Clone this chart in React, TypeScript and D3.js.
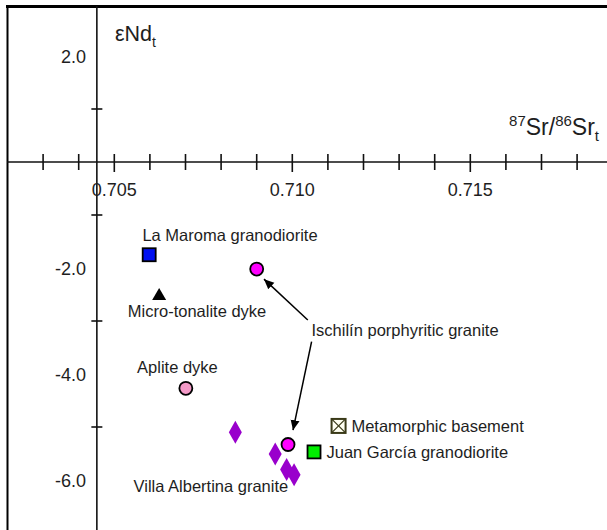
import React from "react";
import * as d3 from "d3";

const W = 607;
const H = 530;

// x tick values (minor every 0.001) and labelled values
const xTicks = [0.703, 0.704, 0.705, 0.706, 0.707, 0.708, 0.709, 0.71, 0.711, 0.712, 0.713, 0.714, 0.715, 0.716, 0.717, 0.718];
const xLabels = [0.705, 0.71, 0.715];
const yTicks = [1, -1, -3, -5];
const yLabels = [2, -2, -4, -6];

// series
const laMaroma = [{ x: 0.70598, y: -1.75 }];
const microTonalite = [{ x: 0.70626, y: -2.51 }];
const ischilin = [
  { x: 0.709, y: -2.02 },
  { x: 0.70988, y: -5.33 },
];
const aplite = [{ x: 0.70701, y: -4.27 }];
const villaAlbertina = [
  { x: 0.7084, y: -5.1 },
  { x: 0.70952, y: -5.51 },
  { x: 0.70984, y: -5.8 },
  { x: 0.71005, y: -5.9 },
];
const juanGarcia = [{ x: 0.71061, y: -5.47 }];
const metamorphic = [{ x: 0.7113, y: -4.98 }];

// text labels (data-unit anchors: left edge, vertical centre)
const labels = [
  { text: "La Maroma granodiorite", x: 0.70579, y: -1.377 },
  { text: "Micro-tonalite dyke", x: 0.70538, y: -2.81 },
  { text: "Ischilín porphyritic granite", x: 0.71054, y: -3.17 },
  { text: "Aplite dyke", x: 0.70564, y: -3.87 },
  { text: "Metamorphic basement", x: 0.71166, y: -4.975 },
  { text: "Juan García granodiorite", x: 0.71096, y: -5.47 },
  { text: "Villa Albertina granite", x: 0.70554, y: -6.11 },
];

const arrows = [
  { x1: 0.710435, y1: -2.98, x2: 0.709205, y2: -2.21 },
  { x1: 0.710542, y1: -3.39, x2: 0.71002, y2: -5.06 },
];

const yAxisAt = 0.70451;

const fmt = (v: number, d: number) => v.toFixed(d);

export default function App() {
  const x = d3.scaleLinear().domain([0.705, 0.715]).range([114.3, 470.3]);
  const y = d3.scaleLinear().domain([0, -6]).range([162, 480]);
  const font = "'Liberation Sans', Arial, Helvetica, sans-serif";
  const txt = "#1e1e1e";
  const x0 = x(yAxisAt);
  const y0 = y(0);
  const diamond = (cx: number, cy: number) =>
    `M${cx},${cy - 11.5}L${cx + 6.5},${cy}L${cx},${cy + 11.5}L${cx - 6.5},${cy}Z`;
  const tri = d3.symbol().type(d3.symbolTriangle).size(85);

  return (
    <div style={{ position: "absolute", left: 0, top: 0 }}>
      <svg width={W} height={H} style={{ display: "block", background: "#fff" }} fontFamily={font}>
        <defs>
          <marker id="ah" viewBox="0 0 10 10" refX="10" refY="5" markerWidth="10" markerHeight="10" markerUnits="userSpaceOnUse" orient="auto">
            <path d="M0,0.5L10,5L0,9.5Z" fill="#000" />
          </marker>
        </defs>
        {/* frame */}
        <line x1={6} x2={W} y1={6.5} y2={6.5} stroke="#000" strokeWidth={3} />
        <line x1={7.5} x2={7.5} y1={5} y2={H} stroke="#000" strokeWidth={2} />
        {/* axes */}
        <line x1={7} x2={W} y1={y0} y2={y0} stroke="#111" strokeWidth={1.6} />
        <line x1={x0} x2={x0} y1={6} y2={H} stroke="#111" strokeWidth={1.6} />
        {xTicks.map((t) => {
          const major = xLabels.some((v) => Math.abs(v - t) < 1e-9);
          return (
            <line key={t} x1={x(t)} x2={x(t)} y1={y0 - 8} y2={y0 + (major ? 10 : 8)} stroke="#111" strokeWidth={1.6} />
          );
        })}
        {yTicks.map((t) => (
          <line key={t} x1={x0 - 5.5} x2={x0 + 5.5} y1={y(t)} y2={y(t)} stroke="#111" strokeWidth={1.6} />
        ))}
        {xLabels.map((t) => (
          <text key={t} x={x(t)} y={y0 + 34} textAnchor="middle" fontSize={18} fill={txt}>
            {fmt(t, 3)}
          </text>
        ))}
        {yLabels.map((t) => (
          <text key={t} x={86} y={y(t) + 6.5} textAnchor="end" fontSize={18} fill={txt}>
            {fmt(t, 1)}
          </text>
        ))}
        {/* axis titles */}
        <text x={115} y={41} fontSize={21.5} fill={txt}>
          εNd<tspan fontSize={14} dy={6}>t</tspan>
        </text>
        <text x={599} y={135} textAnchor="end" fontSize={23} fill={txt}>
          <tspan fontSize={15} dy={-9}>87</tspan>
          <tspan dy={9}>Sr/</tspan>
          <tspan fontSize={15} dy={-9}>86</tspan>
          <tspan dy={9}>Sr</tspan>
          <tspan fontSize={15} dy={6}>t</tspan>
        </text>
        {/* arrows */}
        {arrows.map((a, i) => (
          <line key={i} x1={x(a.x1)} y1={y(a.y1)} x2={x(a.x2)} y2={y(a.y2)} stroke="#000" strokeWidth={1.5} markerEnd="url(#ah)" />
        ))}
        {/* points */}
        {laMaroma.map((d, i) => (
          <rect key={i} x={x(d.x) - 6.5} y={y(d.y) - 6.5} width={13} height={13} fill="#0010f0" stroke="#000" strokeWidth={1.8} />
        ))}
        {microTonalite.map((d, i) => (
          <path key={i} d={tri() as string} transform={`translate(${x(d.x)},${y(d.y) + 1})`} fill="#000" />
        ))}
        {villaAlbertina.map((d, i) => (
          <path key={i} d={diamond(x(d.x), y(d.y))} fill="#9900cc" />
        ))}
        {ischilin.map((d, i) => (
          <circle key={i} cx={x(d.x)} cy={y(d.y)} r={6.5} fill="#ff00ff" stroke="#000" strokeWidth={1.8} />
        ))}
        {aplite.map((d, i) => (
          <circle key={i} cx={x(d.x)} cy={y(d.y)} r={6.5} fill="#f49ac8" stroke="#000" strokeWidth={1.8} />
        ))}
        {juanGarcia.map((d, i) => (
          <rect key={i} x={x(d.x) - 6.5} y={y(d.y) - 6.5} width={13} height={13} fill="#00ee00" stroke="#000" strokeWidth={1.8} />
        ))}
        {metamorphic.map((d, i) => {
          const cx = x(d.x);
          const cy = y(d.y);
          return (
            <g key={i} stroke="#3a3a18" strokeWidth={2}>
              <rect x={cx - 7} y={cy - 7} width={14} height={14} fill="#fffff2" />
              <line x1={cx - 7} y1={cy - 7} x2={cx + 7} y2={cy + 7} strokeWidth={1.2} />
              <line x1={cx + 7} y1={cy - 7} x2={cx - 7} y2={cy + 7} strokeWidth={1.2} />
            </g>
          );
        })}
        {/* labels */}
        {labels.map((l) => (
          <text key={l.text} x={x(l.x)} y={y(l.y) + 6} fontSize={16.5} fill={txt}>
            {l.text}
          </text>
        ))}
      </svg>
    </div>
  );
}
